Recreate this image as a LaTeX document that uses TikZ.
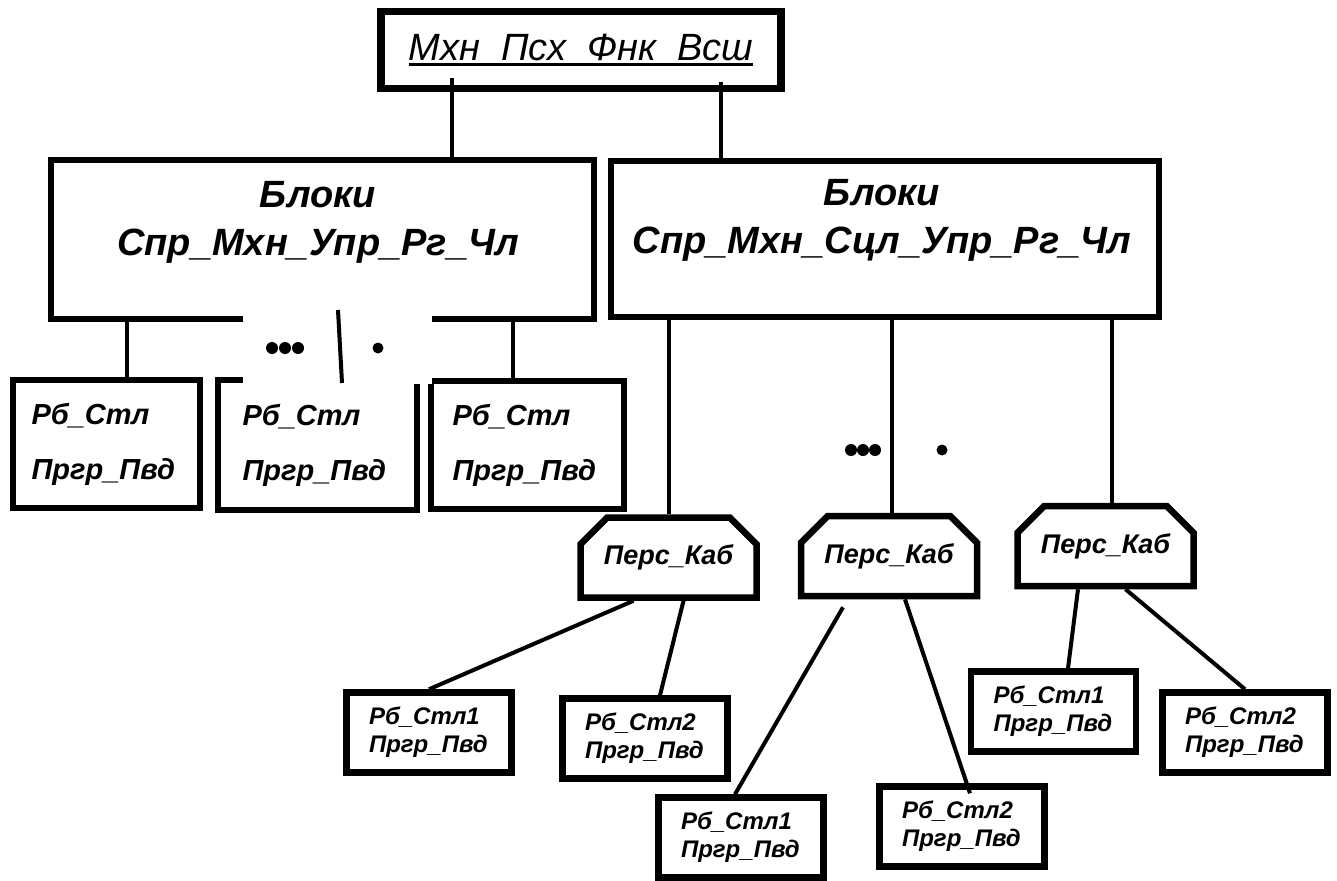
\documentclass[tikz,border=0pt]{standalone}
\usepackage{fontspec}
\setmainfont{Liberation Sans}
\usetikzlibrary{shapes.misc}
\newcommand{\mxhul}[1]{\setbox0\hbox{#1}\rlap{\rule[-6pt]{\wd0}{3pt}}\box0}

\begin{document}
\begin{tikzpicture}[
  x=1pt, y=-1pt,
  every node/.style={font=\bfseries\itshape},
  box/.style={draw, line width=6.5pt, inner sep=0pt},
  topbox/.style={box, line width=7.5pt, font=\itshape\fontsize{38}{44}\selectfont,
                 minimum width=400pt, minimum height=77pt},
  bigbox/.style={box, minimum width=543pt, minimum height=159pt},
  bigtxt/.style={align=center, inner sep=0pt, font=\bfseries\itshape\fontsize{38}{48}\selectfont},
  rbbox/.style={box, minimum height=128pt, text width=150pt, align=left,
                font=\bfseries\itshape\fontsize{29}{55}\selectfont},
  kab/.style={draw, line width=6.5pt, chamfered rectangle,
              chamfered rectangle corners={north west,north east},
              chamfered rectangle xsep=14pt, chamfered rectangle ysep=14pt,
              minimum width=176pt, minimum height=80pt, inner sep=0pt,
              font=\bfseries\itshape\fontsize{27}{32}\selectfont},
  stlbox/.style={box, minimum width=165pt, minimum height=80pt, text width=120pt, align=left,
                 font=\bfseries\itshape\fontsize{24}{28}\selectfont},
  link/.style={line width=4pt}
]
\useasboundingbox (0,0) rectangle (1337,880);

% upper levels
\node[topbox] (top) at (581,50) {\mxhul{Мхн\_Псх\_Фнк\_Всш}};
\node[bigbox] (lbig) at (322.5,239.5) {};
\node[bigbox, minimum width=548pt, minimum height=156pt] (rbig) at (885,239) {};
\node[bigtxt] (lbigtxt) at (318,222) {Блоки\\Спр\_Мхн\_Упр\_Рг\_Чл};
\node[bigtxt] (rbigtxt) at (882,220) {Блоки\\Спр\_Мхн\_Сцл\_Упр\_Рг\_Чл};

% left branch
\node[rbbox, minimum width=187pt] (rb1) at (106.5,444) {Рб\_Стл\\Пргр\_Пвд};
\node[rbbox, minimum width=199pt, minimum height=130pt] (rb2) at (317.5,445) {Рб\_Стл\\Пргр\_Пвд};
\node[rbbox, minimum width=193pt] (rb3) at (527.5,445) {Рб\_Стл\\Пргр\_Пвд};

% right branch
\node[kab] (kab1) at (668.5,557.5) {Перс\_Каб};
\node[kab] (kab2) at (889,556) {Перс\_Каб};
\node[kab] (kab3) at (1105.5,546) {Перс\_Каб};

\node[stlbox] (st1) at (429,732.5) {Рб\_Стл1\\Пргр\_Пвд};
\node[stlbox] (st2) at (645,738.5) {Рб\_Стл2\\Пргр\_Пвд};
\node[stlbox] (st3) at (741,837.5) {Рб\_Стл1\\Пргр\_Пвд};
\node[stlbox] (st4) at (962,826.5) {Рб\_Стл2\\Пргр\_Пвд};
\node[stlbox] (st5) at (1053.5,711.5) {Рб\_Стл1\\Пргр\_Пвд};
\node[stlbox] (st6) at (1245,732.5) {Рб\_Стл2\\Пргр\_Пвд};

% links
\coordinate (tl) at (452,78);
\coordinate (tr) at (721,82);
\draw[link] (tl) -- (tl |- lbig.north);
\draw[link] (tr) -- (tr |- rbig.north);
\draw[link] ([xshift=20pt]rb1.north) -- ([xshift=20pt]rb1.north |- lbig.south);
\draw[link] ([xshift=-14.5pt]rb3.north) -- ([xshift=-14.5pt]rb3.north |- lbig.south);
\draw[link] (kab1.north) -- (kab1.north |- rbig.south);
\draw[link] ([xshift=3pt]kab2.north) -- ([xshift=3pt]kab2.north |- rbig.south);
\draw[link] ([xshift=6pt]kab3.north) -- ([xshift=6pt]kab3.north |- rbig.south);
\draw[link] ([xshift=-35pt]kab1.south) -- (st1.north);
\draw[link] ([xshift=15pt]kab1.south) -- ([xshift=15pt]st2.north);
\draw[link] ([xshift=-46pt,yshift=-8pt]kab2.south) -- ([xshift=-6pt]st3.north);
\draw[link] ([xshift=16pt]kab2.south) -- ([xshift=8pt,yshift=-10pt]st4.north);
\draw[link] ([xshift=-27.5pt]kab3.south) -- ([xshift=14.5pt]st5.north);
\draw[link] ([xshift=20pt]kab3.south) -- (st6.north);

% gap with dots
\fill[white] (243,305) rectangle (432,384);
\draw[link] (338,310) -- (342,383);
\fill (272,348) circle (6pt) (285,348) circle (6pt) (298,348) circle (6pt);
\fill (378,348) circle (5.5pt);
\fill (851,450) circle (6pt) (863,450) circle (6pt) (875,450) circle (6pt);
\fill (942,450) circle (5.5pt);
\end{tikzpicture}
\end{document}
